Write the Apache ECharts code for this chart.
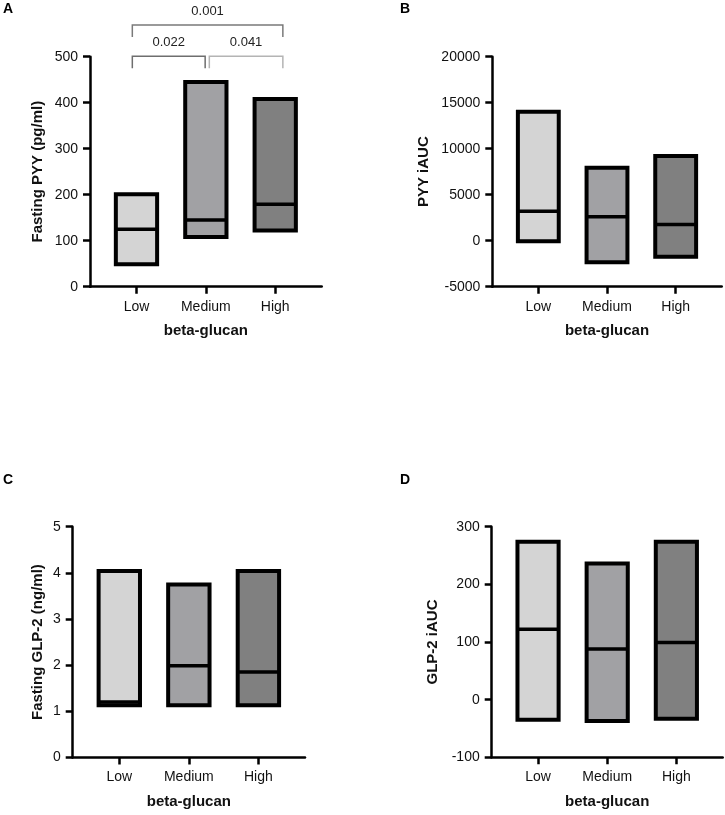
<!DOCTYPE html>
<html>
<head>
<meta charset="utf-8">
<script src="https://cdn.jsdelivr.net/npm/echarts@6/dist/echarts.min.js"></script>
<style>html,body{margin:0;padding:0;background:#fff}#c{width:725px;height:815px}</style>
</head>
<body>
<div id="c"></div>
<script>
// ---- data ----
const categories = ['Low', 'Medium', 'High'];
const groupColors = ['#d4d4d4', '#a1a1a4', '#808080'];

// A: Fasting PYY (pg/ml)
const pyyFastMin = [49, 108, 122];
const pyyFastMax = [201, 445, 408];
const pyyFastMedian = [125, 145, 179];
// B: PYY iAUC
const pyyAucMin = [-70, -2350, -1740];
const pyyAucMax = [14020, 7940, 9200];
const pyyAucMedian = [3190, 2610, 1770];
// C: Fasting GLP-2 (ng/ml)
const glpFastMin = [1.13, 1.13, 1.13];
const glpFastMax = [4.04, 3.75, 4.04];
const glpFastMedian = [1.2, 1.99, 1.85];
// D: GLP-2 iAUC
const glpAucMin = [-35, -37, -33];
const glpAucMax = [274, 236, 274];
const glpAucMedian = [122, 88, 99];

// significance comparisons (panel A)
const compFrom = [0, 1, 0];
const compTo = [1, 2, 2];
const compP = ['0.022', '0.041', '0.001'];
const compLevel = [0, 0, 1];

// y-axis ticks
const yTicksA = [0, 500, 100];
const yTicksB = [-5000, 20000, 5000];
const yTicksC = [0, 5, 1];
const yTicksD = [-100, 300, 100];

const FONT = "'Liberation Sans', Arial, Helvetica, sans-serif";
const TEXT = '#111';
const grids = [
  {left: 90, top: 56.7, width: 231.7, height: 230},
  {left: 492.3, top: 56.7, width: 229.4, height: 230},
  {left: 72.7, top: 526.7, width: 232.3, height: 230.8},
  {left: 491.7, top: 526.7, width: 231, height: 230.6}
];
const yNames = ['Fasting PYY (pg/ml)', 'PYY iAUC', 'Fasting GLP-2 (ng/ml)', 'GLP-2 iAUC'];
const yNameGaps = [45, 61, 27, 51];
const yTicks = [yTicksA, yTicksB, yTicksC, yTicksD];
const panelData = [
  [pyyFastMin, pyyFastMax, pyyFastMedian],
  [pyyAucMin, pyyAucMax, pyyAucMedian],
  [glpFastMin, glpFastMax, glpFastMedian],
  [glpAucMin, glpAucMax, glpAucMedian]
];

function boxRender(params, api) {
  const x = api.value(0), lo = api.value(1), hi = api.value(2), med = api.value(3);
  const pTop = api.coord([x, hi]);
  const pBot = api.coord([x, lo]);
  const pMed = api.coord([x, med]);
  const w = api.size([0.595, 0])[0];
  return {
    type: 'group',
    children: [
      {type: 'rect', shape: {x: pTop[0] - w / 2, y: pTop[1], width: w, height: pBot[1] - pTop[1]},
       style: {fill: groupColors[params.dataIndex], stroke: '#000', lineWidth: 4}},
      {type: 'line', shape: {x1: pTop[0] - w / 2, y1: pMed[1], x2: pTop[0] + w / 2, y2: pMed[1]},
       style: {stroke: '#000', lineWidth: 3.5}}
    ]
  };
}

const bracketColors = ['#6e6e6e', '#b4b4b4', '#7a7a7a'];
function bracketRender(params, api) {
  const i = params.dataIndex;
  const f = api.value(0), t = api.value(1), lev = api.value(2);
  const x1 = f + (f === 1 ? 0.05 : -0.06);
  const x2 = t + (t === 1 ? -0.01 : 0.11);
  const yLine = 501 + lev * 68;
  const yTip = yLine - 26;
  const yText = yLine + 29;
  const a = api.coord([x1, yTip]), b = api.coord([x1, yLine]);
  const c = api.coord([x2, yLine]), d = api.coord([x2, yTip]);
  const tx = api.coord([(x1 + x2) / 2, yText]);
  return {
    type: 'group',
    children: [
      {type: 'polyline', shape: {points: [a, b, c, d]},
       style: {stroke: bracketColors[i], lineWidth: 1.5, fill: null}},
      {type: 'text', x: tx[0], y: tx[1],
       style: {text: compP[i], fill: '#222', font: '13px ' + FONT, align: 'center', verticalAlign: 'middle'}}
    ]
  };
}

const option = {
  animation: false,
  backgroundColor: '#fff',
  grid: grids.map(g => Object.assign({outerBoundsMode: 'none', containLabel: false}, g)),
  xAxis: grids.map((g, i) => ({
    type: 'value', gridIndex: i, min: -0.67, max: 2.67,
    name: 'beta-glucan', nameLocation: 'middle', nameGap: 37,
    nameTextStyle: {fontFamily: FONT, fontWeight: 'bold', fontSize: 15, color: TEXT},
    axisLine: {show: true, onZero: false, lineStyle: {color: '#000', width: 2.5}},
    axisTick: {show: true, customValues: [0, 1, 2], length: 7, lineStyle: {color: '#000', width: 2.5}},
    axisLabel: {customValues: [0, 1, 2], formatter: v => categories[Math.round(v)] || '', margin: 13,
                fontFamily: FONT, fontSize: 14, color: TEXT},
    splitLine: {show: false}
  })),
  yAxis: grids.map((g, i) => ({
    type: 'value', gridIndex: i, min: yTicks[i][0], max: yTicks[i][1], interval: yTicks[i][2],
    name: yNames[i], nameLocation: 'middle', nameGap: yNameGaps[i], nameRotate: 90,
    nameTextStyle: {fontFamily: FONT, fontWeight: 'bold', fontSize: 15, color: TEXT},
    axisLine: {show: true, onZero: false, lineStyle: {color: '#000', width: 2.5}},
    axisTick: {show: true, length: 7, lineStyle: {color: '#000', width: 2.5}},
    axisLabel: {margin: 12, fontFamily: FONT, fontSize: 14, color: TEXT, formatter: v => String(v)},
    splitLine: {show: false}
  })),
  graphic: [
    {type: 'text', left: 3, top: 2, style: {text: 'A', font: 'bold 14px ' + FONT, fill: '#000'}},
    {type: 'text', left: 400, top: 2, style: {text: 'B', font: 'bold 14px ' + FONT, fill: '#000'}},
    {type: 'text', left: 3, top: 473, style: {text: 'C', font: 'bold 14px ' + FONT, fill: '#000'}},
    {type: 'text', left: 400, top: 473, style: {text: 'D', font: 'bold 14px ' + FONT, fill: '#000'}}
  ],
  series: panelData.map((pd, i) => ({
    type: 'custom', xAxisIndex: i, yAxisIndex: i, clip: false,
    renderItem: boxRender,
    encode: {x: 0, y: [1, 2, 3]},
    data: categories.map((c, k) => [k, pd[0][k], pd[1][k], pd[2][k]])
  })).concat([{
    type: 'custom', xAxisIndex: 0, yAxisIndex: 0, clip: false, z: 5,
    renderItem: bracketRender,
    encode: {x: [0, 1], y: 2},
    data: compFrom.map((f, k) => [f, compTo[k], compLevel[k]])
  }])
};

const chart = echarts.init(document.getElementById('c'), null, {renderer: 'canvas'});
chart.setOption(option);
</script>
</body>
</html>
